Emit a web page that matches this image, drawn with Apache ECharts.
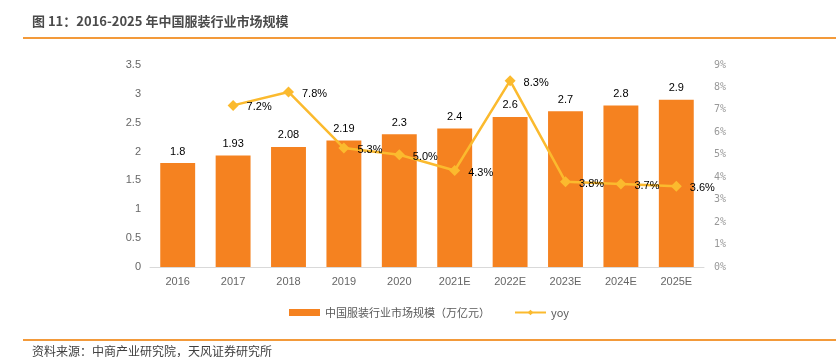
<!DOCTYPE html>
<html><head><meta charset="utf-8">
<script src="https://cdn.jsdelivr.net/npm/echarts@6/dist/echarts.min.js"></script>
<style>html,body{margin:0;padding:0;background:#fff}#c{width:836px;height:357px}</style>
</head><body><div id="c"></div>
<script>
const categories = ['2016','2017','2018','2019','2020','2021E','2022E','2023E','2024E','2025E'];
const marketSize = [1.8, 1.93, 2.08, 2.19, 2.3, 2.4, 2.6, 2.7, 2.8, 2.9];
const yoy = [null, 7.2, 7.8, 5.3, 5.0, 4.3, 8.3, 3.8, 3.7, 3.6];
const leftTicks = {min: 0, max: 3.5, interval: 0.5};
const rightTicks = {min: 0, max: 9, interval: 1};
const titleText = '图 11：2016-2025 年中国服装行业市场规模';
const sourceText = '资料来源：中商产业研究院，天风证券研究所';
const barName = '中国服装行业市场规模（万亿元）';
const lineName = 'yoy';

const chart = echarts.init(document.getElementById('c'), null, {renderer: 'canvas'});
const numFont = 'Liberation Sans, Arial, sans-serif';
const cjkFont = '"Noto Sans CJK SC", sans-serif';
chart.setOption({
  animation: false,
  textStyle: {fontFamily: numFont},
  graphic: [
    {type: 'text', left: 32, top: 15, style: {text: titleText, font: 'bold 13px ' + cjkFont, fill: '#4A4A4A'}},
    {type: 'rect', shape: {x: 23, y: 37, width: 813, height: 2}, style: {fill: '#F39A3A'}},
    {type: 'rect', shape: {x: 23, y: 339, width: 813, height: 2}, style: {fill: '#F39A3A'}},
    {type: 'text', left: 32, top: 345, style: {text: sourceText, font: '12px ' + cjkFont, fill: '#404040'}}
  ],
  legend: {
    top: 302, left: 284,
    itemGap: 24, itemWidth: 31, itemHeight: 7,
    textStyle: {fontFamily: cjkFont, fontSize: 11, color: '#595959'},
    data: [
      {name: barName, icon: 'rect'},
      {name: lineName}
    ]
  },
  grid: {left: 150, right: 132, top: 65, bottom: 90, containLabel: false},
  xAxis: {
    type: 'category', data: categories,
    axisLine: {lineStyle: {color: '#D9D9D9', width: 1}},
    axisTick: {show: false},
    axisLabel: {color: '#666666', fontSize: 11, margin: 9}
  },
  yAxis: [
    {type: 'value', min: leftTicks.min, max: leftTicks.max, interval: leftTicks.interval,
      splitLine: {show: false}, axisLine: {show: false}, axisTick: {show: false},
      axisLabel: {color: '#666666', fontSize: 11, margin: 9}},
    {type: 'value', min: rightTicks.min, max: rightTicks.max, interval: rightTicks.interval,
      splitLine: {show: false}, axisLine: {show: false}, axisTick: {show: false},
      axisLabel: {color: '#999999', fontSize: 10, margin: 10, formatter: '{value}%', fontFamily: 'DejaVu Sans Mono, monospace'}}
  ],
  series: [
    {name: barName, type: 'bar', data: marketSize, barCategoryGap: '37%',
      itemStyle: {color: '#F58220'},
      label: {show: true, position: 'top', distance: 6, color: '#000', fontSize: 11}},
    {name: lineName, type: 'line', yAxisIndex: 1, data: yoy, connectNulls: false,
      symbol: 'diamond', symbolSize: 11,
      lineStyle: {color: '#FBBA2E', width: 2.5},
      itemStyle: {color: '#FBBA2E'},
      label: {show: true, position: 'right', distance: 8, offset: [0, 2], color: '#000', fontSize: 11,
        formatter: p => p.value.toFixed(1) + '%'}}
  ]
});
</script></body></html>
